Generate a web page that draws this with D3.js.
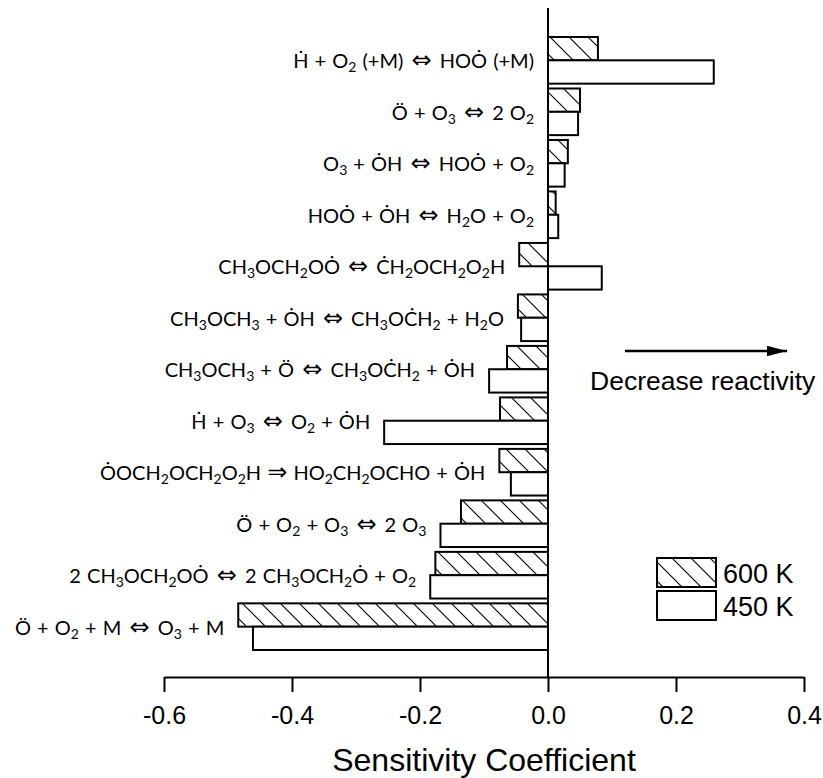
<!DOCTYPE html>
<html><head><meta charset="utf-8">
<script src="https://cdn.jsdelivr.net/npm/d3@7"></script>
<style>html,body{margin:0;padding:0;background:#fff;}</style>
</head><body>
<svg id="c" width="823" height="778"></svg>
<script>
// Reactions (underscore + digit = subscript)
const reactions = [
  "Ḣ + O_2 (+M) ⇔ HOȮ (+M)",
  "Ö + O_3 ⇔ 2 O_2",
  "O_3 + ȮH ⇔ HOȮ + O_2",
  "HOȮ + ȮH ⇔ H_2O + O_2",
  "CH_3OCH_2OȮ ⇔ ĊH_2OCH_2O_2H",
  "CH_3OCH_3 + ȮH ⇔ CH_3OĊH_2 + H_2O",
  "CH_3OCH_3 + Ö ⇔ CH_3OĊH_2 + ȮH",
  "Ḣ + O_3 ⇔ O_2 + ȮH",
  "ȮOCH_2OCH_2O_2H ⇒ HO_2CH_2OCHO + ȮH",
  "Ö + O_2 + O_3 ⇔ 2 O_3",
  "2 CH_3OCH_2OȮ ⇔ 2 CH_3OCH_2Ȯ + O_2",
  "Ö + O_2 + M ⇔ O_3 + M"
];
const series = ["600 K", "450 K"];
const values600 = [0.078, 0.050, 0.031, 0.012, -0.045, -0.047, -0.064, -0.075, -0.076, -0.136, -0.176, -0.484];
const values450 = [0.259, 0.047, 0.026, 0.016, 0.084, -0.042, -0.092, -0.256, -0.058, -0.168, -0.184, -0.461];
const xTicks = [-0.6, -0.4, -0.2, 0.0, 0.2, 0.4];
const xTitle = "Sensitivity Coefficient";
const annotation = "Decrease reactivity";

const svg = d3.select("#c");
const defs = svg.append("defs");
const pat = defs.append("pattern").attr("id", "hatch").attr("patternUnits", "userSpaceOnUse")
  .attr("width", 19).attr("height", 19);
pat.append("rect").attr("width", 19).attr("height", 19).attr("fill", "#fff");
pat.append("path").attr("d", "M0,0 L19,19 M-2,17 L2,21 M17,-2 L21,2")
  .attr("stroke", "#000").attr("stroke-width", 1.1);

const x = d3.scaleLinear().domain([-0.6, 0.4]).range([164, 804]);
const y = d3.scaleBand().domain(d3.range(reactions.length)).range([37, 650]).paddingInner(0.094).paddingOuter(0);
const yi = d3.scaleBand().domain(series).range([0, y.bandwidth()]);

const data = reactions.map((r, i) => ({i, r, v: [values600[i], values450[i]]}));

// bars
const g = svg.append("g");
data.forEach(d => {
  series.forEach((s, k) => {
    const v = d.v[k];
    g.append("rect")
      .attr("x", x(Math.min(0, v)))
      .attr("y", y(d.i) + yi(s))
      .attr("width", Math.abs(x(v) - x(0)))
      .attr("height", yi.bandwidth())
      .attr("fill", k === 0 ? "url(#hatch)" : "#fff")
      .attr("stroke", "#000").attr("stroke-width", 2);
  });
});

// labels
function addLabel(sel, str) {
  const parts = str.split(/(_\d|[⇔⇒])/);
  let afterArrow = false;
  parts.forEach(p => {
    if (!p) return;
    if (/^_\d$/.test(p)) {
      sel.append("tspan").attr("font-size", "14px").attr("baseline-shift", "-28%").text(p[1]);
      afterArrow = false;
    } else if (p === "⇔" || p === "⇒") {
      sel.append("tspan").attr("font-family", "'DejaVu Sans', sans-serif").attr("font-size", "24px")
        .attr("dx", p === "⇔" ? 2 : 0).text(p);
      afterArrow = p === "⇔";
    } else {
      sel.append("tspan").attr("dx", afterArrow ? 2 : 0).text(p);
      afterArrow = false;
    }
  });
}
data.forEach(d => {
  const minv = Math.min(0, d.v[0], d.v[1]);
  const t = svg.append("text")
    .attr("x", x(minv) - 14)
    .attr("y", y(d.i) + y.bandwidth() / 2 + 8)
    .attr("text-anchor", "end")
    .attr("word-spacing", "1px")
    .attr("font-family", "Lato, 'Noto Sans', sans-serif")
    .attr("font-size", "20px").attr("fill", "#000");
  addLabel(t, d.r);
});

// vertical axis at zero
svg.append("line").attr("x1", x(0)).attr("x2", x(0)).attr("y1", 8).attr("y2", 677)
  .attr("stroke", "#000").attr("stroke-width", 2);

// x axis
const fmt = d3.format(".1f");
const ax = svg.append("g").attr("transform", "translate(0,677)")
  .call(d3.axisBottom(x).tickValues(xTicks).tickFormat(d => fmt(d).replace("\u2212", "-"))
    .tickSize(15).tickSizeOuter(0).tickPadding(14));
ax.select(".domain").attr("stroke-width", 2);
ax.selectAll(".tick line").attr("stroke-width", 2);
ax.selectAll(".tick text").attr("font-family", "'Liberation Sans', Arial, sans-serif").attr("font-size", "25px").attr("fill", "#000");

svg.append("text").attr("x", (x(-0.6) + x(0.4)) / 2).attr("y", 771)
  .attr("text-anchor", "middle").attr("font-family", "'Liberation Sans', Arial, sans-serif")
  .attr("font-size", "32px").text(xTitle);

// annotation arrow
defs.append("marker").attr("id", "arr").attr("viewBox", "0 0 10 10").attr("refX", 10).attr("refY", 5)
  .attr("markerWidth", 8).attr("markerHeight", 4.2).attr("markerUnits", "strokeWidth").attr("orient", "auto")
  .attr("preserveAspectRatio", "none")
  .append("path").attr("d", "M0,0 L10,5 L0,10 z").attr("fill", "#000");
svg.append("line").attr("x1", 625).attr("x2", 787).attr("y1", 351).attr("y2", 351)
  .attr("stroke", "#000").attr("stroke-width", 2.5).attr("marker-end", "url(#arr)");
svg.append("text").attr("x", 590).attr("y", 390).attr("font-family", "'Liberation Sans', Arial, sans-serif")
  .attr("font-size", "26.5px").text(annotation);

// legend
const leg = svg.append("g");
series.forEach((s, k) => {
  leg.append("rect").attr("x", 657).attr("y", 558 + k * 33).attr("width", 59).attr("height", 29)
    .attr("fill", k === 0 ? "url(#hatch)" : "#fff").attr("stroke", "#000").attr("stroke-width", 2);
  leg.append("text").attr("x", 723).attr("y", 583 + k * 33).attr("font-family", "'Liberation Sans', Arial, sans-serif")
    .attr("font-size", "27px").text(s);
});
</script>
</body></html>
